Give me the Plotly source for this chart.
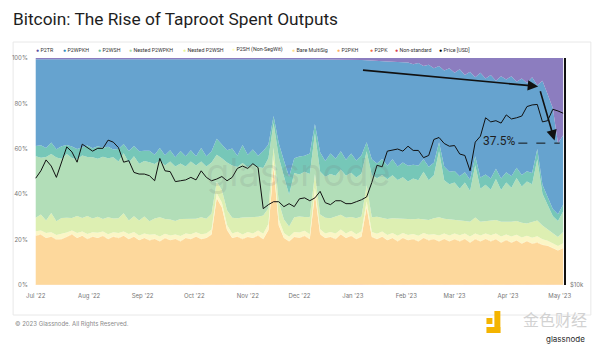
import pandas as pd
import plotly.graph_objects as go

# ---------------- data (3-day samples, share of spent outputs, %) ----------------
dates = pd.date_range("2022-07-01", periods=103, freq="3D")

p2pkh = [21.5, 22.0, 20.5, 21.0, 19.4, 20.0, 21.0, 22.0, 20.5, 21.5, 20.0,
         21.0, 20.5, 21.5, 20.0, 21.0, 20.5, 21.5, 20.0, 21.0, 19.5,
         20.5, 19.5, 20.0, 19.0, 20.5, 19.5, 20.0, 19.0, 20.5, 20.0,
         21.0, 20.0, 20.5, 22.0, 38.0, 34.0, 24.0, 20.5, 21.0, 20.0,
         21.0, 20.5, 21.5, 20.0, 24.0, 52.0, 26.0, 20.5, 19.0, 21.0,
         20.5, 21.5, 20.0, 40.0, 22.0, 20.5, 21.0, 20.0, 22.0, 20.5,
         21.5, 20.0, 21.0, 34.0, 21.0, 20.0, 21.0, 19.5, 20.5, 19.0,
         20.5, 19.5, 20.0, 19.0, 20.5, 19.5, 20.0, 19.0, 20.0, 19.0,
         20.0, 19.0, 20.0, 18.5, 20.0, 19.0, 20.0, 19.0, 20.0, 18.5,
         19.5, 18.5, 19.5, 18.0, 19.0, 18.0, 18.5, 17.5, 17.0, 16.0,
         15.0, 16.0]

p2sh = [1.8, 1.6, 2.0, 1.8, 1.7, 2.2, 1.8, 1.5, 2.0, 1.7, 2.0,
        1.8, 2.2, 1.6, 2.0, 1.8, 2.0, 1.7, 2.1, 1.8, 2.0,
        1.8, 2.2, 1.9, 2.0, 1.7, 2.0, 1.8, 2.1, 1.8, 2.0,
        1.7, 2.0, 1.8, 2.0, 2.0, 2.0, 2.0, 1.8, 2.0, 1.8,
        2.0, 1.8, 2.0, 2.2, 2.5, 3.0, 2.5, 2.0, 1.8, 2.0,
        2.2, 2.0, 2.0, 2.5, 2.0, 1.8, 2.0, 2.2, 2.0, 1.8,
        2.0, 2.0, 2.2, 2.5, 2.0, 2.2, 2.0, 2.2, 2.0, 2.3,
        2.0, 2.2, 2.0, 2.3, 2.0, 2.2, 2.0, 2.5, 2.2, 2.5,
        2.3, 2.5, 2.2, 2.5, 2.3, 2.5, 2.2, 2.5, 2.3, 2.5,
        2.2, 2.5, 2.3, 2.5, 2.2, 2.5, 2.5, 2.3, 2.0, 2.0,
        1.8, 2.0]

nested_p2wsh = [6.0, 7.0, 5.5, 8.5, 6.0, 7.0, 6.5, 5.5, 7.5, 6.0, 8.0,
                6.0, 7.0, 5.5, 7.5, 6.0, 6.5, 8.0, 6.0, 7.0, 6.5,
                7.5, 6.0, 7.0, 8.5, 6.5, 7.0, 6.0, 7.5, 6.5, 7.0,
                6.0, 7.5, 6.5, 7.0, 5.0, 5.5, 6.5, 7.0, 6.0, 7.5,
                6.5, 7.0, 6.0, 8.0, 7.0, 5.0, 7.5, 6.0, 4.5, 6.5,
                7.0, 6.0, 7.5, 6.0, 6.5, 7.0, 6.0, 7.5, 6.5, 7.0,
                6.0, 7.0, 6.5, 7.0, 6.5, 7.5, 6.0, 7.0, 6.5, 7.5,
                6.0, 7.0, 6.5, 7.5, 6.0, 6.5, 7.0, 8.0, 6.5, 7.0,
                6.0, 6.5, 5.5, 6.5, 7.0, 6.0, 5.5, 6.5, 6.0, 6.5,
                5.5, 6.5, 6.0, 6.5, 5.5, 7.0, 7.0, 6.0, 5.0, 4.5,
                4.0, 5.0]

nested_p2wpkh = [27.0, 25.0, 28.0, 26.0, 27.5, 26.0, 28.0, 26.5, 25.0, 27.5, 26.0,
                 27.0, 25.5, 27.5, 26.0, 27.0, 25.0, 26.5, 25.5, 26.5, 25.0,
                 24.5, 26.0, 24.0, 25.0, 23.5, 25.5, 24.0, 24.5, 23.0, 25.0,
                 23.5, 24.5, 23.0, 22.5, 12.0, 14.0, 21.0, 23.0, 22.5, 24.0,
                 22.0, 23.5, 22.0, 21.0, 22.0, 11.0, 20.0, 19.0, 14.0, 19.5,
                 18.5, 20.0, 19.0, 18.0, 19.0, 18.0, 19.5, 18.0, 20.0, 18.5,
                 19.5, 18.0, 19.0, 15.0, 18.5, 17.0, 19.0, 17.5, 19.0, 17.0,
                 18.5, 16.5, 18.0, 17.0, 21.0, 17.5, 19.0, 29.0, 17.0, 15.5,
                 16.5, 14.0, 17.0, 13.5, 23.0, 14.5, 16.0, 13.5, 18.0, 14.0,
                 17.5, 15.0, 19.0, 16.0, 18.5, 16.5, 27.0, 14.0, 11.0, 7.5,
                 7.0, 9.0]

p2wsh = [4.5, 5.5, 4.0, 5.0, 3.5, 5.5, 4.0, 5.0, 4.5, 3.5, 5.0,
         4.0, 5.5, 4.0, 5.0, 3.5, 5.5, 4.0, 5.0, 4.5, 5.5,
         4.5, 5.0, 4.0, 5.5, 4.5, 5.0, 4.0, 5.5, 4.5, 5.0,
         4.0, 6.0, 4.5, 5.0, 7.0, 6.0, 5.5, 7.5, 5.0, 8.0,
         5.5, 6.5, 5.0, 7.5, 6.0, 3.0, 6.0, 7.0, 8.0, 6.5,
         8.0, 7.0, 9.0, 4.0, 8.5, 7.0, 9.0, 7.5, 8.0, 7.0,
         8.5, 7.5, 8.0, 4.0, 7.0, 6.5, 7.0, 6.0, 7.0, 6.0,
         6.5, 7.0, 6.0, 6.5, 5.5, 6.0, 5.5, 4.0, 6.0, 5.5,
         5.0, 5.5, 4.5, 5.0, 4.0, 5.0, 4.5, 5.0, 4.5, 5.0,
         4.5, 5.0, 4.5, 5.0, 4.5, 5.0, 4.5, 4.0, 3.5, 3.0,
         3.0, 3.0]

p2tr = [0.5, 0.5, 0.6, 0.5, 0.5, 0.6, 0.5, 0.5, 0.6, 0.5, 0.5,
        0.6, 0.5, 0.5, 0.6, 0.5, 0.5, 0.6, 0.5, 0.5, 0.6,
        0.5, 0.5, 0.6, 0.5, 0.5, 0.6, 0.5, 0.5, 0.6, 0.5,
        0.5, 0.6, 0.5, 0.5, 0.6, 0.5, 0.5, 0.6, 0.5, 0.5,
        0.6, 0.5, 0.5, 0.6, 0.5, 0.5, 0.6, 0.5, 0.5, 0.6,
        0.6, 0.6, 0.6, 0.6, 0.6, 0.6, 0.6, 0.6, 0.7, 0.7,
        0.7, 0.8, 0.9, 1.0, 1.2, 1.3, 1.4, 1.5, 1.6, 1.8,
        2.0, 2.0, 2.8, 2.2, 3.5, 3.0, 4.5, 3.5, 5.5, 4.5,
        6.5, 5.0, 7.5, 6.0, 8.5, 6.5, 9.0, 7.5, 10.0, 8.0,
        9.5, 8.0, 10.5, 9.0, 11.0, 8.5, 12.0, 10.0, 16.0, 22.0,
        37.5, 34.0]

p2wpkh = [38.3, 38.0, 39.0, 36.8, 38.9, 38.3, 37.8, 38.6, 39.5, 38.9, 38.1,
          39.2, 38.4, 39.0, 38.5, 39.8, 39.6, 37.3, 40.5, 38.3, 40.5,
          40.3, 40.4, 42.1, 39.1, 42.4, 40.0, 43.3, 40.5, 42.7, 40.1,
          42.9, 39.0, 42.8, 40.6, 35.0, 37.6, 40.1, 39.2, 42.6, 37.8,
          42.0, 39.8, 42.6, 40.3, 37.6, 25.1, 37.0, 44.6, 51.8, 43.5,
          42.8, 42.5, 41.5, 28.5, 41.0, 44.7, 41.5, 43.8, 40.4, 44.1,
          41.4, 44.3, 42.0, 36.1, 43.4, 45.1, 43.2, 45.9, 43.0, 46.0,
          44.1, 45.4, 44.3, 45.1, 41.1, 44.9, 41.6, 33.6, 42.4, 45.6,
          43.3, 47.1, 42.9, 47.6, 34.8, 46.1, 42.4, 45.6, 38.8, 45.1,
          40.9, 44.1, 37.8, 42.6, 38.9, 42.1, 28.1, 45.8, 45.1, 44.6,
          31.3, 30.6]

bare_multisig = [0.2, 0.3, 0.2, 0.2, 0.3, 0.2, 0.2, 0.3, 0.2, 0.2, 0.3,
                 0.2, 0.2, 0.3, 0.2, 0.2, 0.3, 0.2, 0.2, 0.3, 0.2,
                 0.2, 0.3, 0.2, 0.2, 0.3, 0.2, 0.2, 0.3, 0.2, 0.2,
                 0.3, 0.2, 0.2, 0.3, 0.2, 0.2, 0.3, 0.2, 0.2, 0.3,
                 0.2, 0.2, 0.3, 0.2, 0.2, 0.3, 0.2, 0.2, 0.3, 0.2,
                 0.2, 0.3, 0.2, 0.2, 0.3, 0.2, 0.2, 0.3, 0.2, 0.2,
                 0.3, 0.2, 0.2, 0.3, 0.2, 0.2, 0.3, 0.2, 0.2, 0.3,
                 0.2, 0.2, 0.3, 0.2, 0.2, 0.3, 0.2, 0.2, 0.3, 0.2,
                 0.2, 0.3, 0.2, 0.2, 0.3, 0.2, 0.2, 0.3, 0.2, 0.2,
                 0.3, 0.2, 0.2, 0.3, 0.2, 0.2, 0.3, 0.2, 0.2, 0.3,
                 0.2, 0.2]

p2pk = [0.1, 0.1, 0.1, 0.2, 0.1, 0.1, 0.1, 0.2, 0.1, 0.1, 0.1,
        0.2, 0.1, 0.1, 0.1, 0.2, 0.1, 0.1, 0.1, 0.2, 0.1,
        0.1, 0.1, 0.2, 0.1, 0.1, 0.1, 0.2, 0.1, 0.1, 0.1,
        0.2, 0.1, 0.1, 0.1, 0.2, 0.1, 0.1, 0.1, 0.2, 0.1,
        0.1, 0.1, 0.2, 0.1, 0.1, 0.1, 0.2, 0.1, 0.1, 0.1,
        0.2, 0.1, 0.1, 0.1, 0.2, 0.1, 0.1, 0.1, 0.2, 0.1,
        0.1, 0.1, 0.2, 0.1, 0.1, 0.1, 0.2, 0.1, 0.1, 0.1,
        0.2, 0.1, 0.1, 0.1, 0.2, 0.1, 0.1, 0.1, 0.2, 0.1,
        0.1, 0.1, 0.2, 0.1, 0.1, 0.1, 0.2, 0.1, 0.1, 0.1,
        0.2, 0.1, 0.1, 0.1, 0.2, 0.1, 0.1, 0.1, 0.2, 0.1,
        0.1, 0.1]

non_standard = [0.05, 0.04, 0.05, 0.06, 0.05, 0.04, 0.05, 0.06, 0.05, 0.04, 0.05,
                0.06, 0.05, 0.04, 0.05, 0.06, 0.05, 0.04, 0.05, 0.06, 0.05,
                0.04, 0.05, 0.06, 0.05, 0.04, 0.05, 0.06, 0.05, 0.04, 0.05,
                0.06, 0.05, 0.04, 0.05, 0.06, 0.05, 0.04, 0.05, 0.06, 0.05,
                0.04, 0.05, 0.06, 0.05, 0.04, 0.05, 0.06, 0.05, 0.04, 0.05,
                0.06, 0.05, 0.04, 0.05, 0.06, 0.05, 0.04, 0.05, 0.06, 0.05,
                0.04, 0.05, 0.06, 0.05, 0.04, 0.05, 0.06, 0.05, 0.04, 0.05,
                0.06, 0.05, 0.04, 0.05, 0.06, 0.05, 0.04, 0.05, 0.06, 0.05,
                0.04, 0.05, 0.06, 0.05, 0.04, 0.05, 0.06, 0.05, 0.04, 0.05,
                0.06, 0.05, 0.04, 0.05, 0.06, 0.05, 0.04, 0.05, 0.06, 0.05,
                0.04, 0.05]

price_usd = [19300, 20200, 21600, 20800, 19400, 21200, 23400, 22700, 21300, 23800, 23300,
             22800, 23200, 23200, 24400, 24100, 23300, 21300, 21500, 20000, 19800,
             19800, 19600, 19000, 21800, 20200, 20100, 18900, 19000, 19100, 19400,
             19100, 20200, 19400, 19000, 19200, 19500, 19000, 19400, 20500, 20800,
             20500, 21100, 20600, 16000, 16400, 16700, 16700, 16200, 16500, 16200,
             17000, 17100, 16800, 17100, 17800, 16600, 16400, 16800, 16800, 16500,
             16500, 16700, 16900, 17200, 18800, 20900, 20700, 22800, 22900, 23100,
             22800, 23500, 22900, 22900, 21900, 22200, 24500, 24800, 23900, 23500,
             23600, 22400, 22200, 20200, 24100, 25000, 28000, 27300, 27500, 27100,
             28500, 27800, 28000, 28300, 30000, 30300, 30400, 27300, 27500, 29500,
             29200, 28800]

annot_share = 37.5  # highlighted P2TR share

# bottom -> top stacking order: (name, values, area fill, legend dot colour)
series = [
    ("Non-standard", non_standard, "#ec8b80", "#d53e4f"),
    ("P2PK", p2pk, "#fbb98a", "#f46d43"),
    ("P2PKH", p2pkh, "#fdd89c", "#fdae61"),
    ("Bare MultiSig", bare_multisig, "#fde4a6", "#fee08b"),
    ("P2SH (Non-SegWit)", p2sh, "#fbf6c6", "#ffffbf"),
    ("Nested P2WSH", nested_p2wsh, "#ddefb2", "#e6f598"),
    ("Nested P2WPKH", nested_p2wpkh, "#b2deb8", "#abdda4"),
    ("P2WSH", p2wsh, "#76c7b8", "#66c2a5"),
    ("P2WPKH", p2wpkh, "#66a3cf", "#3288bd"),
    ("P2TR", p2tr, "#8c7dbf", "#5e4fa2"),
]

fig = go.Figure()
for name, vals, fill, _ in series:
    fig.add_trace(go.Scatter(
        x=dates, y=vals, name=name, stackgroup="one", groupnorm="percent",
        mode="lines", line=dict(width=0), fillcolor=fill, showlegend=False,
        hoverinfo="skip"))

fig.add_trace(go.Scatter(
    x=dates, y=price_usd, name="Price [USD]", yaxis="y2", mode="lines",
    line=dict(color="#111111", width=1), showlegend=False))

# plot-area pixel geometry helpers (for layout furniture only)
L, R, T, B = 31, 564, 58, 285
W, H = 600, 344
def px(x):
    return (x - L) / (R - L)
def py(y):
    return (B - y) / (B - T)

ann = []
# title
ann.append(dict(text="Bitcoin: The Rise of Taproot Spent Outputs", x=px(8), y=py(19),
                xref="paper", yref="paper", xanchor="left", yanchor="middle",
                showarrow=False, font=dict(family="Roboto", size=17.3, color="#1e1e1e")))
# legend (drawn as text, in reference order)
legend_x = [31, 58, 93, 125, 179, 228, 288, 334, 367, 392, 436]
legend_items = [(n, c) for n, _, _, c in series[::-1]] + [("Price [USD]", "#000000")]
for (name, col), lx in zip(legend_items, legend_x):
    ann.append(dict(text=f'<span style="color:{col}">●</span> {name}', x=px(lx), y=py(50),
                    xref="paper", yref="paper", xanchor="left", yanchor="middle",
                    showarrow=False, font=dict(family="Roboto", size=5.3, color="#333333")))
# footer
ann.append(dict(text="© 2023 Glassnode. All Rights Reserved.", x=px(10), y=py(324),
                xref="paper", yref="paper", xanchor="left", yanchor="middle",
                showarrow=False, font=dict(family="Inter", size=6, color="#8a8a8a")))
# watermark bottom-right
ann.append(dict(text="金色财经", x=px(555), y=py(319), xref="paper", yref="paper",
                xanchor="center", yanchor="middle", showarrow=False,
                font=dict(family="Noto Sans CJK SC", size=16, color="#d2d2d2")))
ann.append(dict(text="glassnode", x=px(566), y=py(339), xref="paper", yref="paper",
                xanchor="center", yanchor="middle", showarrow=False,
                font=dict(family="Inter", size=8, color="#2b2b2b")))
# faint centre watermark
ann.append(dict(text="glassnode", x=px(297), y=py(172), xref="paper", yref="paper",
                xanchor="center", yanchor="middle", showarrow=False,
                font=dict(family="Inter", size=38, color="rgba(120,120,120,0.16)")))

# arrows and 37.5% marker (data coordinates)
ann.append(dict(x=pd.Timestamp("2023-04-18 12:00"), y=87.5, ax=pd.Timestamp("2023-01-06"), ay=94.7,
                xref="x", yref="y", axref="x", ayref="y", showarrow=True, text="",
                arrowhead=2, arrowsize=1.3, arrowwidth=1.6, arrowcolor="#111111", standoff=0))
ann.append(dict(x=pd.Timestamp("2023-04-28"), y=100 - annot_share + 1.2,
                ax=pd.Timestamp("2023-04-19 12:00"), ay=86,
                xref="x", yref="y", axref="x", ayref="y", showarrow=True, text="",
                arrowhead=2, arrowsize=1.3, arrowwidth=1.6, arrowcolor="#111111", standoff=0))
ann.append(dict(text=f"{annot_share}%", x=pd.Timestamp("2023-04-06"), y=100 - annot_share + 0.8,
                xref="x", yref="y", xanchor="right", yanchor="middle", showarrow=False,
                font=dict(family="Roboto", size=12, color="#1e1e1e")))

shapes = [
    dict(type="rect", xref="paper", yref="paper", x0=px(10), x1=px(591), y0=py(315), y1=py(42),
         line=dict(color="#e8e8e8", width=1), fillcolor="rgba(0,0,0,0)", layer="below"),
    dict(type="line", xref="x", yref="y", x0=pd.Timestamp("2023-04-07"), x1=pd.Timestamp("2023-05-01"),
         y0=100 - annot_share, y1=100 - annot_share, line=dict(color="#111111", width=1, dash="dash")),
    # yellow logo blocks
    dict(type="rect", xref="paper", yref="paper", x0=px(486), x1=px(492), y0=py(324), y1=py(318),
         fillcolor="#f4b400", line=dict(width=0)),
    dict(type="rect", xref="paper", yref="paper", x0=px(494), x1=px(500), y0=py(333), y1=py(311),
         fillcolor="#f4b400", line=dict(width=0)),
    dict(type="rect", xref="paper", yref="paper", x0=px(486), x1=px(500), y0=py(333), y1=py(327),
         fillcolor="#f4b400", line=dict(width=0)),
]

tickfont = dict(family="Inter", size=6, color="#777777")
fig.update_layout(
    width=W, height=H,
    margin=dict(l=L, r=W - R, t=T, b=H - B),
    paper_bgcolor="white", plot_bgcolor="white",
    showlegend=False,
    annotations=ann, shapes=shapes,
    xaxis=dict(range=[pd.Timestamp("2022-06-30"), pd.Timestamp("2023-05-03 12:00")],
               dtick="M1", tick0="2022-07-01", tickformat="%b '%y", tickfont=tickfont,
               showgrid=False, zeroline=False, showline=False,
               ticks="outside", ticklen=5, tickcolor="rgba(0,0,0,0)"),
    yaxis=dict(range=[0, 100], dtick=20, ticksuffix="%", tickfont=tickfont,
               showgrid=False, zeroline=False, showline=False,
               ticks="outside", ticklen=4, tickcolor="rgba(0,0,0,0)"),
    yaxis2=dict(overlaying="y", side="right", type="log", range=[4.0, 4.607],
                tickvals=[10000], ticktext=["$10k"], tickfont=tickfont,
                showgrid=False, zeroline=False, showline=True, linecolor="#111111", linewidth=1.5,
                ticks="outside", ticklen=3, tickcolor="rgba(0,0,0,0)"),
)

fig.write_html("out.html")
